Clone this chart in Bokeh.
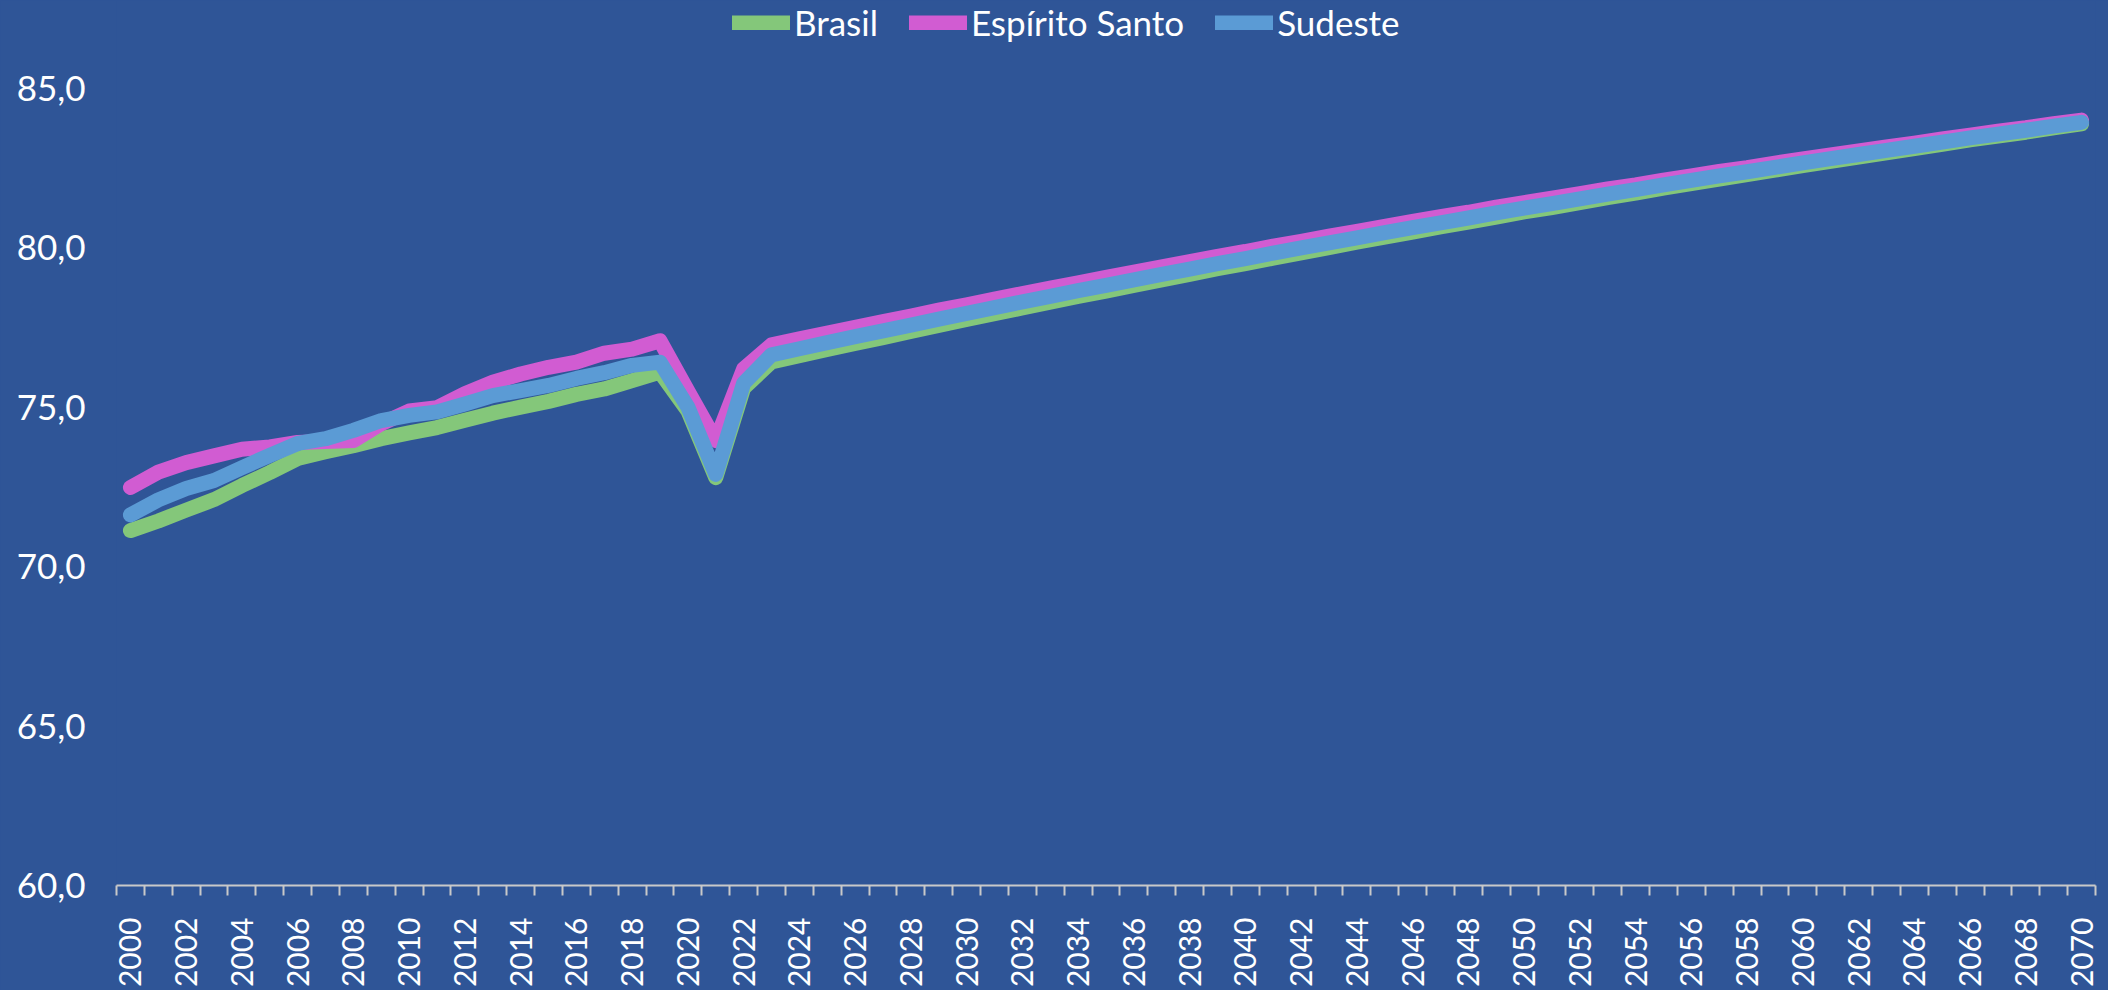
from math import pi
from jinja2 import Template
from bokeh.plotting import figure
from bokeh.models import FixedTicker, Legend, LegendItem, Range1d
from bokeh.embed import file_html
from bokeh.resources import INLINE

# ---------------- data ----------------
years = list(range(2000, 2071))

brasil = [71.13, 71.43, 71.77, 72.10, 72.54, 72.95, 73.39, 73.60, 73.79, 74.01,
          74.19, 74.36, 74.59, 74.81, 75.00, 75.18, 75.40, 75.57, 75.83, 76.10,
          74.88, 72.79, 75.60,
          76.42, 76.61, 76.81, 77.00, 77.18, 77.37, 77.56, 77.75, 77.93, 78.11,
          78.29, 78.47, 78.64, 78.82, 78.99, 79.16, 79.34, 79.50, 79.67, 79.84,
          80.00, 80.17, 80.33, 80.49, 80.65, 80.80, 80.96, 81.12, 81.26, 81.41,
          81.57, 81.71, 81.87, 82.01, 82.15, 82.29, 82.43, 82.57, 82.71, 82.84,
          82.97, 83.11, 83.24, 83.38, 83.50, 83.62, 83.76, 83.88]

espirito_santo = [72.48, 72.96, 73.26, 73.47, 73.68, 73.75, 73.89, 73.92, 73.95, 74.48,
                  74.88, 74.98, 75.42, 75.78, 76.04, 76.25, 76.41, 76.69, 76.82, 77.08,
                  75.50, 73.95, 76.20,
                  76.95, 77.14, 77.32, 77.50, 77.68, 77.85, 78.04, 78.21, 78.39, 78.56,
                  78.73, 78.90, 79.07, 79.23, 79.40, 79.56, 79.73, 79.88, 80.05, 80.20,
                  80.36, 80.51, 80.67, 80.82, 80.97, 81.11, 81.27, 81.41, 81.55, 81.69,
                  81.84, 81.97, 82.12, 82.25, 82.39, 82.51, 82.65, 82.78, 82.91, 83.03,
                  83.16, 83.28, 83.41, 83.53, 83.65, 83.76, 83.89, 84.00]

sudeste = [71.62, 72.09, 72.45, 72.70, 73.10, 73.49, 73.86, 74.01, 74.27, 74.58,
           74.74, 74.85, 75.10, 75.36, 75.52, 75.68, 75.90, 76.08, 76.31, 76.41,
           75.00, 72.89, 75.75,
           76.64, 76.83, 77.02, 77.21, 77.39, 77.57, 77.76, 77.94, 78.12, 78.30,
           78.47, 78.65, 78.82, 78.99, 79.16, 79.33, 79.50, 79.66, 79.83, 79.99,
           80.15, 80.31, 80.47, 80.63, 80.78, 80.93, 81.09, 81.24, 81.38, 81.53,
           81.68, 81.82, 81.97, 82.11, 82.25, 82.38, 82.52, 82.66, 82.79, 82.92,
           83.05, 83.18, 83.31, 83.44, 83.56, 83.68, 83.81, 83.93]

series_names = ["Brasil", "Espírito Santo", "Sudeste"]
y_ticks = [60, 65, 70, 75, 80, 85]
y_tick_labels = ["60,0", "65,0", "70,0", "75,0", "80,0", "85,0"]
x_label_years = list(range(2000, 2071, 2))

# ---------------- style ----------------
BG = "#2F5597"
COLORS = ["#84C77A", "#D15CD2", "#5B9BD5"]
AXIS_GRAY = "#C9C9C9"
FONT = "Lato"

p = figure(width=2108, height=990, output_backend="svg", toolbar_location=None,
           x_range=Range1d(1999.5, 2070.5), y_range=Range1d(60, 87.75),
           min_border_left=116, min_border_right=13, min_border_top=0,
           min_border_bottom=101,
           background_fill_color=BG, border_fill_color=BG,
           outline_line_color=None)
p.grid.visible = False

renderers = []
for data, col in zip([brasil, espirito_santo, sudeste], COLORS):
    r = p.line(years, data, line_width=15, line_color=col,
               line_cap="round", line_join="round")
    renderers.append(r)

legend = Legend(items=[LegendItem(label=n, renderers=[r])
                       for n, r in zip(series_names, renderers)],
                orientation="horizontal", location=(616, 842),
                glyph_width=58, glyph_height=15, label_standoff=4, spacing=31,
                padding=0, margin=0, background_fill_alpha=0,
                border_line_color=None, label_text_color="white",
                label_text_font=FONT, label_text_font_size="35px")
p.add_layout(legend)

xa = p.xaxis[0]
xa.ticker = FixedTicker(ticks=x_label_years,
                        minor_ticks=[y - 0.5 for y in years] + [years[-1] + 0.5])
xa.major_tick_out = 0
xa.major_tick_in = 0
xa.major_tick_line_color = None
xa.minor_tick_out = 10
xa.minor_tick_in = 0
xa.minor_tick_line_color = AXIS_GRAY
xa.minor_tick_line_width = 2
xa.axis_line_color = AXIS_GRAY
xa.axis_line_width = 2
xa.major_label_orientation = pi / 2
xa.major_label_standoff = 22
xa.major_label_text_color = "white"
xa.major_label_text_font = FONT
xa.major_label_text_font_size = "30px"

ya = p.yaxis[0]
ya.ticker = FixedTicker(ticks=y_ticks, minor_ticks=[])
ya.major_label_overrides = {t: l for t, l in zip(y_ticks, y_tick_labels)}
ya.axis_line_color = None
ya.major_tick_line_color = None
ya.minor_tick_line_color = None
ya.major_tick_out = 0
ya.major_tick_in = 0
ya.major_label_standoff = 31
ya.major_label_text_color = "white"
ya.major_label_text_font = FONT
ya.major_label_text_font_size = "35px"

template = Template("""{% extends base %}
{% block preamble %}<style>html, body { background-color: #2F5597 !important; overflow: hidden !important; margin: 0 !important; padding: 0 !important; }</style>{% endblock %}""")

open("out.html", "w").write(file_html(p, INLINE, "Esperança de vida", template=template))
